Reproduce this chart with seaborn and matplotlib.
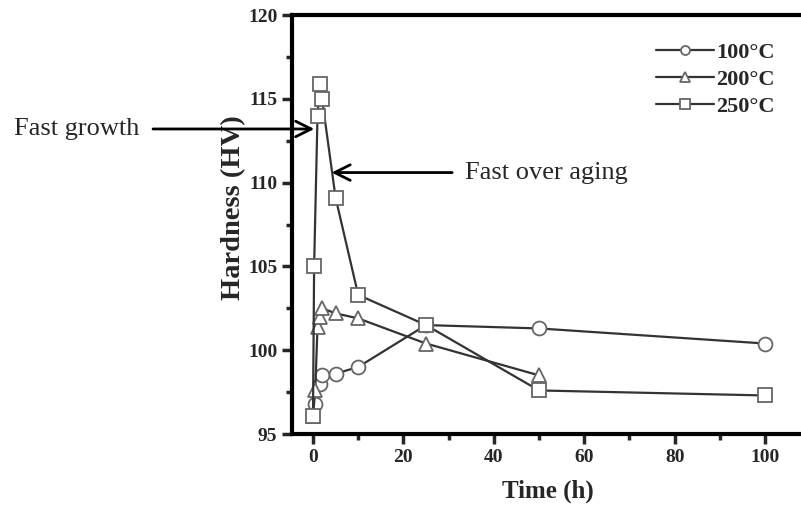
import numpy as np
import matplotlib
matplotlib.use("Agg")
import matplotlib.pyplot as plt
import pandas as pd
import seaborn as sns
from matplotlib.ticker import MultipleLocator

sns.set_style("ticks")
plt.rcParams['font.family'] = 'Liberation Serif'
plt.rcParams['font.weight'] = 'bold'

# data
time100 = [0.5, 1.5, 2, 5, 10, 25, 50, 100]
hv100 = [96.8, 98.0, 98.5, 98.6, 99.0, 101.5, 101.3, 100.4]
time200 = [0, 0.5, 1, 1.5, 2, 5, 10, 25, 50]
hv200 = [96.1, 97.6, 101.4, 102.0, 102.5, 102.2, 101.9, 100.4, 98.5]
time250 = [0, 0.25, 1, 1.5, 2, 5, 10, 25, 50, 100]
hv250 = [96.1, 105.0, 114.0, 115.9, 115.0, 109.1, 103.3, 101.5, 97.6, 97.3]

series = [("100°C", time100, hv100, "o"),
          ("200°C", time200, hv200, "^"),
          ("250°C", time250, hv250, "s")]

fig = plt.figure(figsize=[8.01, 5.14], dpi=100)
ax = fig.add_axes([0.3645, 0.1556, 0.64, 0.8152])

for label, t, hv, mk in series:
    df = pd.DataFrame({"t": t, "hv": hv})
    sns.lineplot(data=df, x="t", y="hv", ax=ax, color="#333333", lw=1.6,
                 marker=mk, markersize=10, markerfacecolor="white",
                 markeredgecolor="#666666", markeredgewidth=1.3, label=label,
                 estimator=None, sort=False)

ax.set_xlim(-4.65, 108.75)
ax.set_ylim(95, 120)
ax.xaxis.set_major_locator(MultipleLocator(20))
ax.xaxis.set_minor_locator(MultipleLocator(10))
ax.yaxis.set_major_locator(MultipleLocator(5))
ax.yaxis.set_minor_locator(MultipleLocator(2.5))
ax.tick_params(which='major', length=7, width=2.5, labelsize=14, direction='out')
ax.tick_params(which='minor', length=4, width=2.5, direction='out')
for lbl in ax.get_xticklabels() + ax.get_yticklabels():
    lbl.set_fontweight('bold')
for s in ['left', 'bottom', 'top']:
    ax.spines[s].set_linewidth(3)
    ax.spines[s].set_color('black')
ax.spines['right'].set_visible(False)

ax.set_xlabel("Time (h)", fontsize=18, fontweight='bold', labelpad=10)
ax.set_ylabel("Hardness (HV)", fontsize=20.5, fontweight='bold', labelpad=2)
ax.yaxis.set_label_coords(-0.09, 0.54)

leg = ax.legend(loc='upper right', bbox_to_anchor=(0.98, 0.982), frameon=False,
                prop={'size': 16, 'weight': 'bold'}, markerscale=0.65,
                handlelength=2.6, handletextpad=0.1, labelspacing=0.28)

ax.annotate("", xy=(0.9, 113.2), xytext=(-36, 113.2),
            arrowprops=dict(arrowstyle='->', lw=2, color='black', mutation_scale=28),
            annotation_clip=False)
ax.text(-66.2, 113.2, "Fast growth", fontsize=19, fontweight='normal',
        va='center', ha='left')
ax.annotate("", xy=(3.5, 110.6), xytext=(31.4, 110.6),
            arrowprops=dict(arrowstyle='->', lw=2, color='black', mutation_scale=28))
ax.text(33.6, 110.6, "Fast over aging", fontsize=19, fontweight='normal',
        va='center', ha='left')

fig.savefig("out.png", dpi=100)
